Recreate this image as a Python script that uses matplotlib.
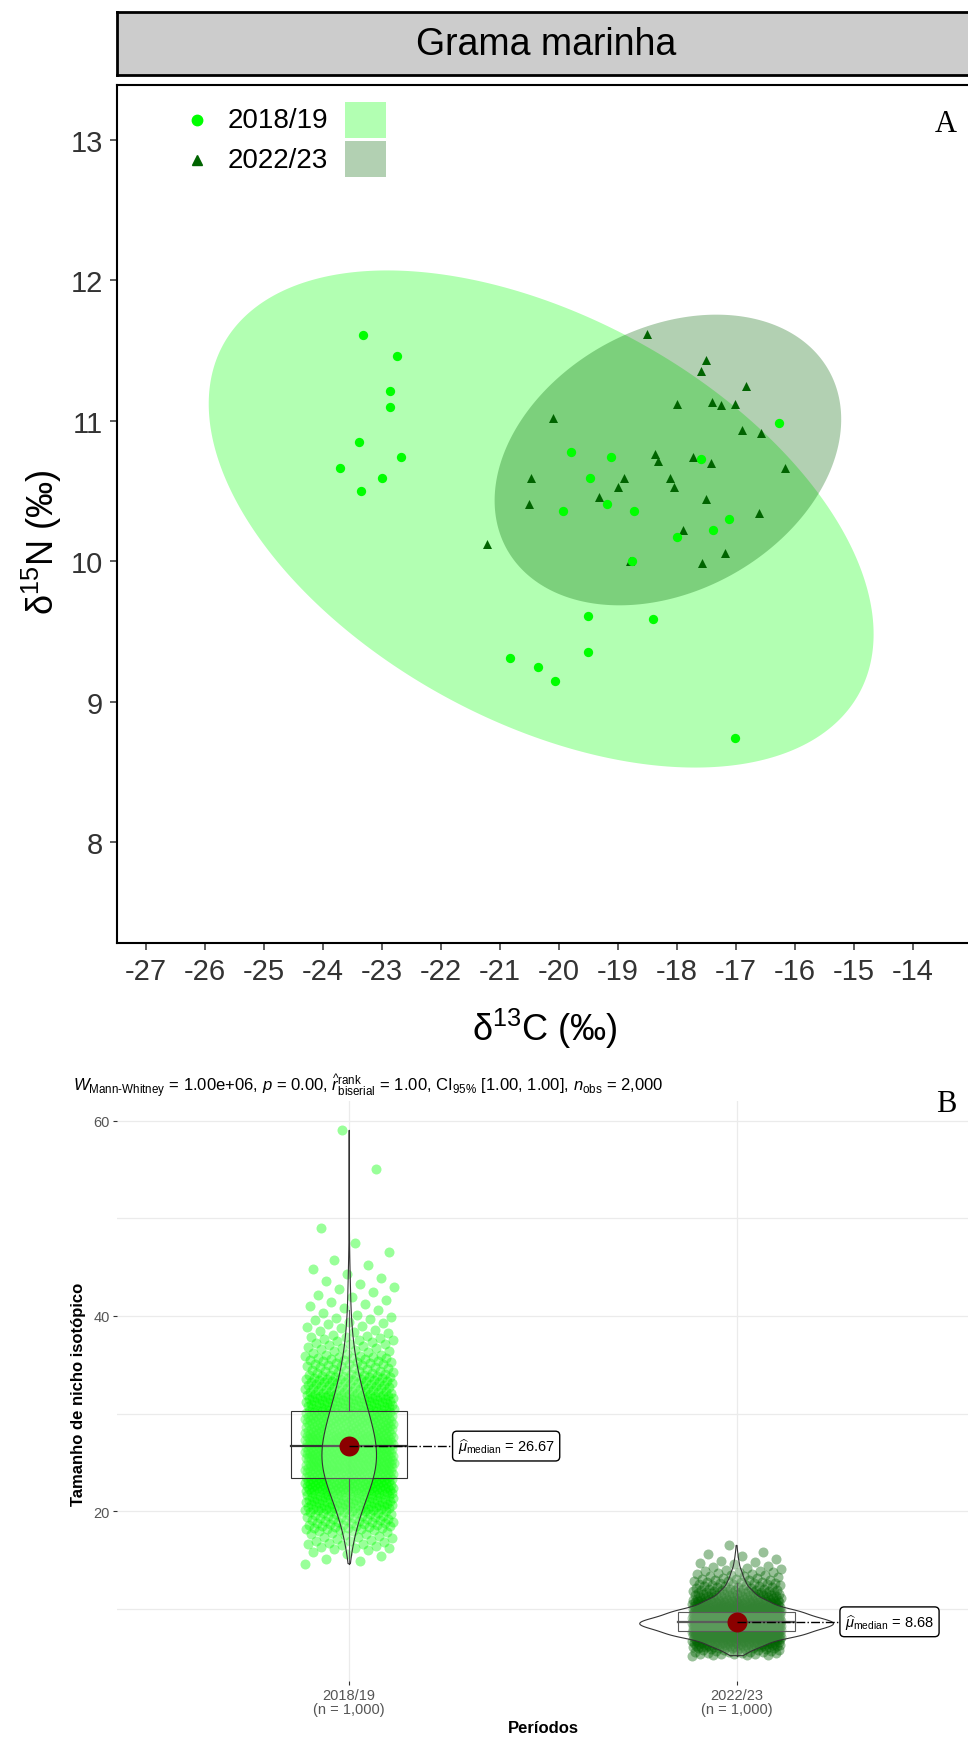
import numpy as np
import matplotlib
matplotlib.use('Agg')
import matplotlib.pyplot as plt
from matplotlib.patches import Rectangle, Polygon
from matplotlib.lines import Line2D

plt.rcParams['font.family'] = ['Liberation Sans', 'DejaVu Sans']
plt.rcParams['mathtext.fontset'] = 'custom'
plt.rcParams['mathtext.rm'] = 'Liberation Sans'
plt.rcParams['mathtext.it'] = 'Liberation Sans:italic'
plt.rcParams['mathtext.bf'] = 'Liberation Sans:bold'
plt.rcParams['axes.unicode_minus'] = False

W, H = 968, 1740

# ---- A: d13C / d15N biplot ----
periods = ['2018/19', '2022/23']
c13_1819 = [-23.32, -22.75, -22.86, -22.86, -23.39, -22.68, -23.71, -23.00, -23.35,
            -19.79, -19.47, -19.93, -19.50, -19.50, -20.83, -20.36, -20.07, -16.26,
            -19.11, -17.59, -19.19, -18.72, -17.11, -17.39, -18.00, -18.76, -18.40, -17.01]
n15_1819 = [11.61, 11.46, 11.21, 11.10, 10.85, 10.74, 10.66, 10.59, 10.50,
            10.78, 10.59, 10.36, 9.61, 9.35, 9.31, 9.25, 9.15, 10.98,
            10.74, 10.73, 10.41, 10.36, 10.30, 10.22, 10.17, 10.00, 9.59, 8.74]
c13_2223 = [-18.51, -17.51, -17.59, -16.82, -18.00, -17.40, -17.25, -17.01, -20.10, -16.90,
            -16.57, -18.37, -18.31, -17.73, -17.42, -16.17, -20.47, -18.90, -19.00, -18.11,
            -18.04, -20.50, -19.32, -17.50, -16.61, -17.90, -21.22, -18.79, -17.18, -17.57]
n15_2223 = [11.62, 11.43, 11.35, 11.25, 11.12, 11.13, 11.11, 11.12, 11.02, 10.93,
            10.91, 10.76, 10.71, 10.74, 10.70, 10.66, 10.59, 10.59, 10.53, 10.59,
            10.53, 10.41, 10.46, 10.44, 10.34, 10.22, 10.12, 10.00, 10.06, 9.99]
# ellipse centre and covariance (d13C, d15N)
ell_center = [(-20.30, 10.30), (-18.15, 10.72)]
ell_cov = [[[31.8, -4.62], [-4.62, 3.13]],
           [[8.64, 0.85], [0.85, 1.07]]]
period_colors = ['#00ff00', '#006400']

# ---- B: bootstrapped niche size ----
edges_1819 = [14.5, 16, 18, 20, 22, 24, 26, 28, 30, 32, 34, 36, 38, 40, 42, 44, 46,
              48, 50, 52, 54, 56, 58, 60]
counts_1819 = [6, 25, 52, 90, 130, 155, 150, 125, 95, 65, 42, 25, 15, 9, 7, 4, 2,
               1, 0, 0, 1, 0, 1]
edges_2223 = [5.2, 6, 7, 8, 9, 10, 11, 12, 13, 14, 15, 16, 17]
counts_2223 = [27, 88, 200, 280, 195, 100, 52, 28, 17, 8, 4, 1]
q1 = [23.38, 7.70]
medians = [26.67, 8.68]
q3 = [30.30, 9.70]
xticklabels = ['2018/19\n(n = 1,000)', '2022/23\n(n = 1,000)']


def fx(px):
    return px / W


def fy(py):
    return 1 - py / H


fig = plt.figure(figsize=(W / 100, H / 100), dpi=100)

# strip
sax = fig.add_axes([fx(117), fy(76), 884 / W, 62.7 / H])
sax.set_facecolor('#cccccc')
sax.set_xticks([])
sax.set_yticks([])
for s in sax.spines.values():
    s.set_linewidth(2)
sax.text((546 - 117) / 884, 0.5, 'Grama marinha', ha='center', va='center',
         fontsize=27, transform=sax.transAxes)

ax1 = fig.add_axes([fx(116.7), fy(944.3), 884.3 / W, (944.3 - 86) / H])
ax1.set_xlim(-27.5, -12.5)
ax1.set_ylim(7.28, 13.389)

t = np.linspace(0, 2 * np.pi, 400)
circ = np.vstack([np.cos(t), np.sin(t)])
for c, cov, col in zip(ell_center, ell_cov, period_colors):
    L = np.linalg.cholesky(np.array(cov))
    pts = (L @ circ).T + np.array(c)
    ax1.add_patch(Polygon(pts, closed=True, fc=col, ec='none', alpha=0.3, zorder=1))

ax1.scatter(c13_2223, n15_2223, marker='^', s=42, c=period_colors[1], lw=0, zorder=3)
ax1.scatter(c13_1819, n15_1819, marker='o', s=45, c=period_colors[0], lw=0, zorder=4)

ax1.set_xticks(range(-27, -13))
ax1.set_yticks(range(8, 14))
ax1.tick_params(length=5, width=1.1, labelsize=21, pad=5, colors='#333333',
                labelcolor='#333333')
for s in ax1.spines.values():
    s.set_linewidth(1.5)

# legend keys
for i, (lab, col, mk) in enumerate(zip(periods, period_colors, ['o', '^'])):
    yc = 121 + 40 * i
    fig.add_artist(Line2D([fx(196.7)], [fy(yc)], marker=mk, ms=7.5, color=col, lw=0,
                          transform=fig.transFigure))
    fig.text(fx(228), fy(yc), lab, fontsize=20, va='center', ha='left')
    fig.add_artist(Rectangle((fx(345), fy(103 + 39 * i + 36)), 41 / W, 36 / H,
                             fc=col, alpha=0.3, ec='none', transform=fig.transFigure))

fig.text(fx(42), fy(542), 'δ$^{15}$N (‰)', rotation=90, fontsize=26,
         ha='center', va='center')
fig.text(fx(545), fy(1029), 'δ$^{13}$C (‰)', fontsize=26, ha='center', va='center')
fig.text(fx(946), fy(124), 'A', family='Liberation Serif', fontsize=22,
         ha='center', va='center')

# ---- B ----
ax2 = fig.add_axes([fx(116.8), fy(1681.7), (969 - 116.8) / W, 579.7 / H])
ax2.set_xlim(0.4, 2.6)
ax2.set_ylim(2.65, 62.0)
for s in ax2.spines.values():
    s.set_visible(False)
ax2.set_yticks([20, 40, 60])
ax2.set_yticks([10, 30, 50], minor=True)
ax2.set_xticks([1, 2])
ax2.set_xticklabels(xticklabels, linespacing=1.05)
ax2.grid(True, which='major', color='#ebebeb', lw=0.9, zorder=0)
ax2.grid(True, which='minor', axis='y', color='#ebebeb', lw=0.9, zorder=0)
ax2.set_axisbelow(True)
ax2.tick_params(which='major', length=3, width=0.8, color='#333333', labelsize=10.5,
                labelcolor='#555555', pad=2)
ax2.tick_params(which='minor', length=0)


def expand(edges, counts):
    out = []
    for lo, hi, n in zip(edges[:-1], edges[1:], counts):
        out.extend(lo + (np.arange(n) + 0.5) / n * (hi - lo))
    return np.array(out)


groups = [expand(edges_1819, counts_1819), expand(edges_2223, counts_2223)]

# violin densities (gaussian kernel, nrd0 bandwidth), area-scaled
dens = []
for v in groups:
    iqr = np.subtract(*np.percentile(v, [75, 25]))
    bw = 0.9 * min(v.std(ddof=1), iqr / 1.34) * len(v) ** -0.2
    grid = np.linspace(v.min(), v.max(), 512)
    d = np.exp(-0.5 * ((grid[:, None] - v[None, :]) / bw) ** 2).sum(1)
    d /= len(v) * bw * np.sqrt(2 * np.pi)
    dens.append((grid, d))
dmax = max(d.max() for _, d in dens)

golden = 0.6180339887
for i, v in enumerate(groups):
    pos = i + 1
    col = period_colors[i]
    jit = ((np.arange(len(v)) * golden) % 1 - 0.5) * 0.23
    ax2.scatter(pos + jit, v, s=52, c=col, alpha=0.4, lw=0, zorder=2)

    lo_w = v[v >= q1[i] - 1.5 * (q3[i] - q1[i])].min()
    hi_w = v[v <= q3[i] + 1.5 * (q3[i] - q1[i])].max()
    ax2.plot([pos, pos], [q3[i], hi_w], color='#333333', lw=0.8, zorder=3)
    ax2.plot([pos, pos], [q1[i], lo_w], color='#333333', lw=0.8, zorder=3)
    ax2.add_patch(Rectangle((pos - 0.15, q1[i]), 0.3, q3[i] - q1[i], fc=(1, 1, 1, 0.2),
                            ec='#333333', lw=0.8, zorder=3))
    ax2.plot([pos - 0.15, pos + 0.15], [medians[i], medians[i]], color='#333333',
             lw=1.6, zorder=3)

    grid, d = dens[i]
    half = 0.25 * d / dmax
    outline = np.concatenate([np.column_stack([pos - half, grid]),
                              np.column_stack([pos + half, grid])[::-1]])
    ax2.add_patch(Polygon(outline, closed=True, fc=(1, 1, 1, 0.2), ec='#333333',
                          lw=0.8, zorder=4))

    ax2.scatter([pos], [medians[i]], s=207, c='#8b0000', lw=0, zorder=5)
    ax2.plot([pos, pos + 0.265], [medians[i], medians[i]], ls='-.', color='black',
             lw=1.0, zorder=5)
    ax2.text(pos + 0.28, medians[i],
             r'$\widehat{\mu}_{\mathrm{median}}$ = %.2f' % medians[i],
             ha='left', va='center', fontsize=10.5, zorder=6,
             bbox=dict(boxstyle='round,pad=0.35,rounding_size=0.3', fc='white',
                       ec='black', lw=1))

fig.text(fx(79), fy(1394), 'Tamanho de nicho isotópico', rotation=90, fontsize=12,
         fontweight='bold', ha='center', va='center')
fig.text(fx(543), fy(1729), 'Períodos', fontsize=12, fontweight='bold',
         ha='center', va='center')

subtitle = (r'$W_{\mathrm{Mann\text{-}Whitney}}$ = 1.00e+06, $p$ = 0.00, '
            r'$\widehat{r}_{\mathrm{biserial}}^{\mathrm{rank}}$ = 1.00, '
            r'CI$_{95\%}$ [1.00, 1.00], $n_{\mathrm{obs}}$ = 2,000')
fig.text(fx(73), fy(1086), subtitle, fontsize=12, ha='left', va='center')
fig.text(fx(946), fy(1105), 'B', family='Liberation Serif', fontsize=22,
         ha='center', va='center')

fig.savefig('out.png', dpi=100)
